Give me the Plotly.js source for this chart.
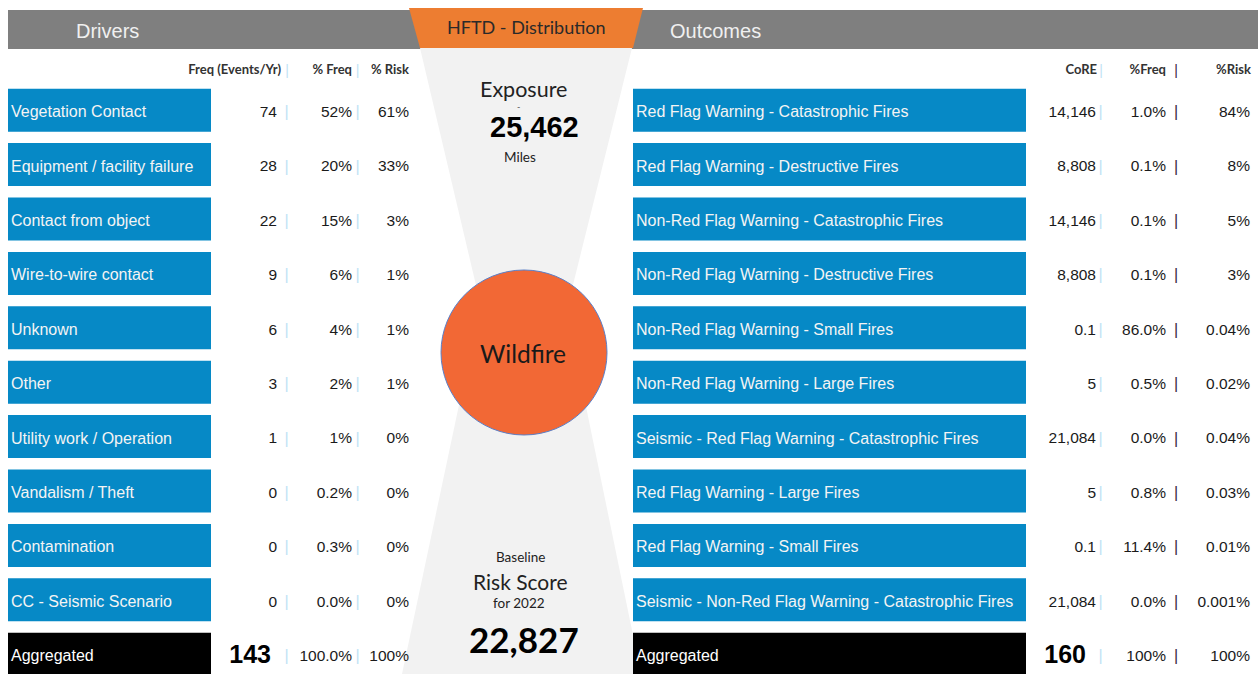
<!DOCTYPE html>
<html><head><meta charset="utf-8">
<script src="https://cdn.plot.ly/plotly-3.0.1.min.js"></script>
<style>html,body{margin:0;padding:0;background:#fff;overflow:hidden}#chart{width:1258px;height:674px;}</style>
</head><body><div id="chart"></div>
<script>
// ---------- DATA ----------
const driverNames = ['Vegetation Contact','Equipment / facility failure','Contact from object','Wire-to-wire contact','Unknown','Other','Utility work / Operation','Vandalism / Theft','Contamination','CC - Seismic Scenario'];
const driverFreq = ['74','28','22','9','6','3','1','0','0','0'];
const driverPctFreq = ['52%','20%','15%','6%','4%','2%','1%','0.2%','0.3%','0.0%'];
const driverPctRisk = ['61%','33%','3%','1%','1%','1%','0%','0%','0%','0%'];
const driverTotalLabel = 'Aggregated';
const driverTotalFreq = '143';
const driverTotalPctFreq = '100.0%';
const driverTotalPctRisk = '100%';

const outcomeNames = ['Red Flag Warning - Catastrophic Fires','Red Flag Warning - Destructive Fires','Non-Red Flag Warning - Catastrophic Fires','Non-Red Flag Warning - Destructive Fires','Non-Red Flag Warning - Small Fires','Non-Red Flag Warning - Large Fires','Seismic - Red Flag Warning - Catastrophic Fires','Red Flag Warning - Large Fires','Red Flag Warning - Small Fires','Seismic - Non-Red Flag Warning - Catastrophic Fires'];
const outcomeCoRE = ['14,146','8,808','14,146','8,808','0.1','5','21,084','5','0.1','21,084'];
const outcomePctFreq = ['1.0%','0.1%','0.1%','0.1%','86.0%','0.5%','0.0%','0.8%','11.4%','0.0%'];
const outcomePctRisk = ['84%','8%','5%','3%','0.04%','0.02%','0.04%','0.03%','0.01%','0.001%'];
const outcomeTotalLabel = 'Aggregated';
const outcomeTotalCoRE = '160';
const outcomeTotalPctFreq = '100%';
const outcomeTotalPctRisk = '100%';

const driverHeaders = ['Freq (Events/Yr)','% Freq','% Risk'];
const outcomeHeaders = ['CoRE','%Freq','%Risk'];
const centerTitle = 'HFTD - Distribution';
const exposureValue = '25,462';
const exposureUnit = 'Miles';
const riskScoreValue = '22,827';
const riskYear = 'for 2022';
const hazardName = 'Wildfire';

// ---------- LAYOUT HELPERS ----------
const W = 1258, H = 674;
const rowY = i => 110.2 + 54.4 * i;
const nRows = driverNames.length + 1;
const rows = Array.from({length: nRows}, (_, i) => rowY(i));
const tRows = rows.map(v => v + 3);
const dataRows = tRows.slice(0, driverNames.length);
const totalRow = tRows[nRows - 1];
const BLUE = '#0689C6';
const boxColors = rows.map((_, i) => i === nRows - 1 ? '#000000' : BLUE);
const ARIAL = 'Liberation Sans, Arial, sans-serif';
const CAL = 'Lato, Open Sans, sans-serif';
const NUM = '#1a1a1a';
const SEP = '#bfe3f5';
const HDR = 13;
const HY = 71;

function txt(x, y, text, pos, size, color, family) {
  return {type: 'scatter', mode: 'text', x: Array.isArray(y) ? y.map(() => x) : [x], y: Array.isArray(y) ? y : [y],
    text: Array.isArray(text) ? text : [text], textposition: pos,
    textfont: {size: size, color: color, family: family || ARIAL}, hoverinfo: 'skip', showlegend: false, cliponaxis: false};
}
const bold = s => '<b>' + s + '</b>';

const traces = [
  {type: 'bar', orientation: 'h', y: rows, x: rows.map(() => 203), base: 8, width: 43,
   marker: {color: boxColors, line: {width: 0}}, hoverinfo: 'skip', showlegend: false},
  {type: 'bar', orientation: 'h', y: rows, x: rows.map(() => 393), base: 633, width: 43,
   marker: {color: boxColors, line: {width: 0}}, hoverinfo: 'skip', showlegend: false},
  // labels
  txt(11, dataRows, driverNames, 'middle right', 16, '#f4f4f4'),
  txt(11, totalRow, driverTotalLabel, 'middle right', 16, '#ffffff'),
  txt(636, dataRows, outcomeNames, 'middle right', 16, '#f4f4f4'),
  txt(636, totalRow, outcomeTotalLabel, 'middle right', 16, '#ffffff'),
  // driver numbers
  txt(277, dataRows, driverFreq, 'middle left', 15.5, NUM),
  txt(352, dataRows, driverPctFreq, 'middle left', 15.5, NUM),
  txt(409, dataRows, driverPctRisk, 'middle left', 15.5, NUM),
  txt(271, totalRow, bold(driverTotalFreq), 'middle left', 25, '#000'),
  txt(352, totalRow, driverTotalPctFreq, 'middle left', 15.5, NUM),
  txt(409, totalRow, driverTotalPctRisk, 'middle left', 15.5, NUM),
  // outcome numbers
  txt(1096, dataRows, outcomeCoRE, 'middle left', 15.5, NUM),
  txt(1166, dataRows, outcomePctFreq, 'middle left', 15.5, NUM),
  txt(1250, dataRows, outcomePctRisk, 'middle left', 15.5, NUM),
  txt(1086, totalRow, bold(outcomeTotalCoRE), 'middle left', 25, '#000'),
  txt(1166, totalRow, outcomeTotalPctFreq, 'middle left', 15.5, NUM),
  txt(1250, totalRow, outcomeTotalPctRisk, 'middle left', 15.5, NUM),
  // separators
  txt(286.5, tRows, tRows.map(() => '|'), 'middle center', 16, SEP),
  txt(357.5, tRows, tRows.map(() => '|'), 'middle center', 16, SEP),
  txt(1100.5, tRows, tRows.map(() => '|'), 'middle center', 16, SEP),
  txt(1176, tRows, tRows.map(() => '|'), 'middle center', 16, '#3b2340'),
  // headers
  txt(281, HY, bold(driverHeaders[0]), 'middle left', HDR, '#333', CAL),
  txt(352, HY, bold(driverHeaders[1]), 'middle left', HDR, '#333', CAL),
  txt(409, HY, bold(driverHeaders[2]), 'middle left', HDR, '#333', CAL),
  txt(1097, HY, bold(outcomeHeaders[0]), 'middle left', HDR, '#333', CAL),
  txt(1166, HY, bold(outcomeHeaders[1]), 'middle left', HDR, '#333', CAL),
  txt(1251, HY, bold(outcomeHeaders[2]), 'middle left', HDR, '#333', CAL),
  txt(287, HY, '|', 'middle center', 14, SEP),
  txt(357.5, HY, '|', 'middle center', 14, SEP),
  txt(1101, HY, '|', 'middle center', 14, SEP),
  txt(1176, HY, '|', 'middle center', 14, '#3b2340')
];

const shapes = [
  // header bar
  {type: 'rect', xref: 'x', yref: 'y', x0: 8, x1: 1258, y0: 10, y1: 49, fillcolor: '#7F7F7F', line: {width: 0}, layer: 'below'},
  // hourglass
  {type: 'path', xref: 'x', yref: 'y', path: 'M420,48 L632,48 L556,353 L492,353 Z', fillcolor: '#F2F2F2', line: {width: 0}, layer: 'below'},
  {type: 'path', xref: 'x', yref: 'y', path: 'M470,353 L575,353 L641,674 L402,674 Z', fillcolor: '#F2F2F2', line: {width: 0}, layer: 'below'},
  // orange trapezoid
  {type: 'path', xref: 'x', yref: 'y', path: 'M409,8 L643,8 L633,48 L420,48 Z', fillcolor: '#ED7D31', line: {width: 0}, layer: 'below'},
  // wildfire circle
  {type: 'circle', xref: 'x', yref: 'y', x0: 441, x1: 607, y0: 270, y1: 435, fillcolor: '#F26835', line: {color: '#5B7FC7', width: 1}, layer: 'below'}
];

const ann = (x, y, text, size, color, family, extra) => Object.assign({xref: 'x', yref: 'y', x: x, y: y, text: text, showarrow: false,
  font: {size: size, color: color, family: family || CAL}, xanchor: 'center', yanchor: 'middle'}, extra || {});

const annotations = [
  ann(107, 31, 'Drivers', 20, '#F0F0F0', ARIAL),
  ann(668, 31, 'Outcomes', 20, '#F0F0F0', ARIAL, {xanchor: 'left'}),
  ann(526, 27, centerTitle, 18, '#2a2a2a'),
  ann(523, 89, 'Exposure', 21.5, '#222'),
  ann(518, 106, '-', 9, '#555'),
  ann(534, 127, bold(exposureValue), 29, '#000', ARIAL),
  ann(520, 157, exposureUnit, 13.5, '#222'),
  ann(523, 353, hazardName, 24.5, '#1a1a1a'),
  ann(520, 557, 'Baseline', 13.5, '#222'),
  ann(520, 581, 'Risk Score', 21, '#222'),
  ann(519, 603, riskYear, 13.5, '#222'),
  ann(524, 639, bold(riskScoreValue), 35, '#000')
];

const layout = {
  width: W, height: H, margin: {l: 0, r: 0, t: 0, b: 0},
  paper_bgcolor: '#ffffff', plot_bgcolor: '#ffffff',
  xaxis: {range: [0, W], visible: false, fixedrange: true},
  yaxis: {range: [H, 0], visible: false, fixedrange: true},
  barmode: 'overlay',
  shapes: shapes, annotations: annotations, showlegend: false
};

Plotly.newPlot('chart', traces, layout, {staticPlot: true, displayModeBar: false});
</script>
</body></html>
